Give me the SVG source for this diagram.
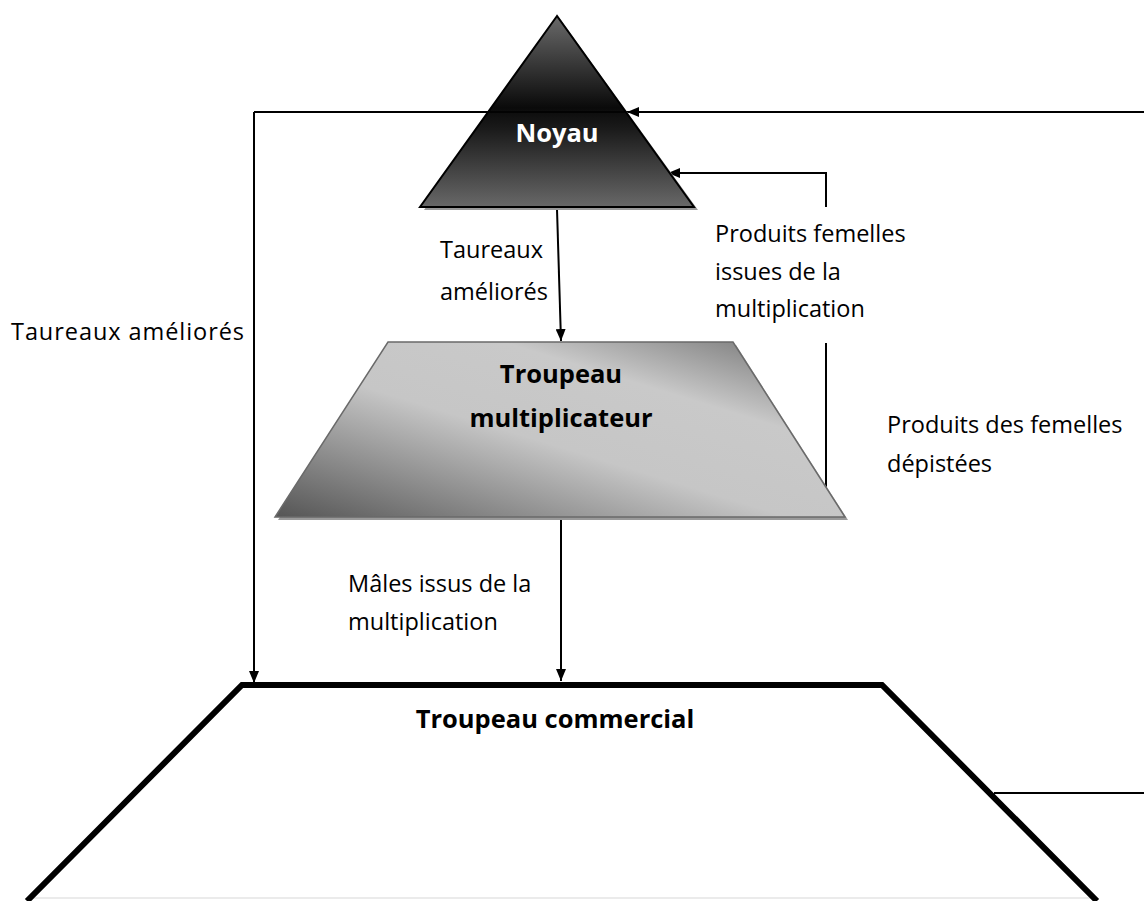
<svg xmlns="http://www.w3.org/2000/svg" width="1144" height="901" viewBox="0 0 1144 901">
<style>
.lbl{font-family:"Open Sans","Liberation Sans",sans-serif;font-size:23.5px;fill:#000}
.ttl{font-family:"Open Sans","Liberation Sans",sans-serif;font-size:25.5px;font-weight:bold;fill:#000;text-anchor:middle}
.conn{stroke:#000;stroke-width:2;fill:none}
</style>
<defs>
<marker id="ah" viewBox="0 0 12 10" refX="12" refY="5" markerWidth="12" markerHeight="10" markerUnits="userSpaceOnUse" orient="auto">
<path d="M0,0 L12,5 L0,10 Z" fill="#000"/>
</marker>
<linearGradient id="gTri" x1="0" y1="0" x2="0" y2="1">
<stop offset="0" stop-color="#6a6a6a"/>
<stop offset="0.48" stop-color="#0a0a0a"/>
<stop offset="0.6" stop-color="#1c1c1c"/>
<stop offset="1" stop-color="#686868"/>
</linearGradient>
<linearGradient id="gTrap" x1="0" y1="1" x2="1" y2="0">
<stop offset="0" stop-color="#555555"/>
<stop offset="0.45" stop-color="#c6c6c6"/>
<stop offset="0.7" stop-color="#c9c9c9"/>
<stop offset="1" stop-color="#6a6a6a"/>
</linearGradient>
</defs>

<g id="connectors">
<polyline class="conn" points="254,112 254,683" marker-end="url(#ah)"/>
<line class="conn" x1="254" y1="112" x2="490" y2="112"/>
<line class="conn" x1="1144" y1="112" x2="627" y2="112" marker-end="url(#ah)"/>
<polyline class="conn" points="826,207 826,173 668,173" marker-end="url(#ah)"/>
<line class="conn" x1="826" y1="343" x2="826" y2="491"/>
<line class="conn" x1="557" y1="209" x2="561" y2="341" marker-end="url(#ah)"/>
<line class="conn" x1="561" y1="517" x2="561" y2="681" marker-end="url(#ah)"/>
<line class="conn" x1="994" y1="793" x2="1144" y2="793"/>
</g>

<g id="noyau">
<polygon points="560,19 424,210 698,210" fill="#9a9a9a"/>
<polygon points="557,16 420,207 694,207" fill="url(#gTri)" stroke="#000" stroke-width="2"/>
<line x1="487" y1="112" x2="627" y2="112" stroke="#000" stroke-width="1.5"/>
<text class="ttl" x="557" y="142" style="fill:#fff">Noyau</text>
</g>

<g id="multiplicateur">
<polygon points="391,345 736,345 848,520 278,520" fill="#9a9a9a"/>
<polygon points="388,342 733,342 845,517 275,517" fill="url(#gTrap)" stroke="#6a6a6a" stroke-width="1.5"/>
<text class="ttl" x="561" y="383">Troupeau</text>
<text class="ttl" x="561" y="427">multiplicateur</text>
</g>

<g id="commercial">
<line x1="27" y1="898" x2="1097" y2="898" stroke="#e4e4e4" stroke-width="1.5"/>
<polyline points="27,901 242,685 882,685 1097,901" fill="none" stroke="#000" stroke-width="6" stroke-linejoin="miter"/>
<text class="ttl" x="555" y="728">Troupeau commercial</text>
</g>

<g id="labels">
<text class="lbl" x="440" y="258">Taureaux</text>
<text class="lbl" x="440" y="300">améliorés</text>
<text class="lbl" x="715" y="242">Produits femelles</text>
<text class="lbl" x="715" y="280">issues de la</text>
<text class="lbl" x="715" y="317">multiplication</text>
<text class="lbl" x="11" y="340" textLength="233" lengthAdjust="spacing">Taureaux améliorés</text>
<text class="lbl" x="887" y="433">Produits des femelles</text>
<text class="lbl" x="887" y="472">dépistées</text>
<text class="lbl" x="348" y="592">Mâles issus de la</text>
<text class="lbl" x="348" y="630">multiplication</text>
</g>
</svg>
